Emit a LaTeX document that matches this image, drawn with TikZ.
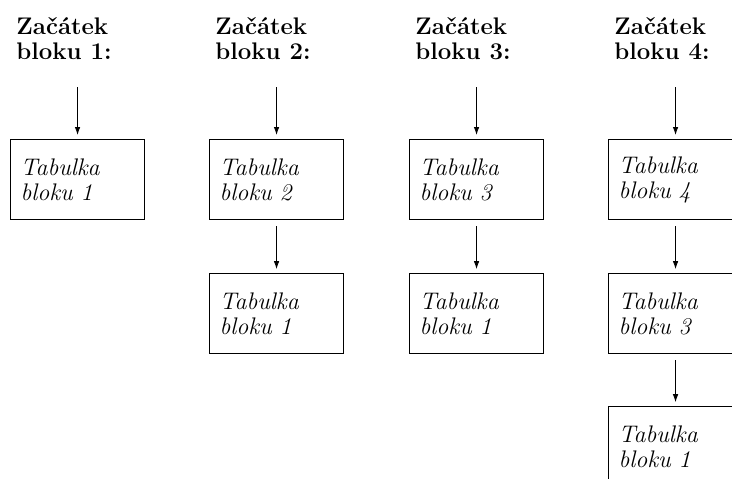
\documentclass[tikz,border=0pt]{standalone}
\usepackage{fontspec}
\usetikzlibrary{positioning,arrows.meta}

\begin{document}
\begin{tikzpicture}[x=1pt, y=-1pt, >={Latex[length=8pt,width=5.5pt]}, line width=.8pt,
  tab/.style={draw, line width=1.1pt, minimum width=134pt, minimum height=80pt,
    inner xsep=10pt, text width=114pt, align=left, anchor=north west,
    font=\fontsize{24}{25}\selectfont\itshape},
  head/.style={anchor=north west, inner sep=0pt, align=left,
    font=\fontsize{24}{25}\selectfont\bfseries}]
  \useasboundingbox (0,0) rectangle (732,479);
  \clip (0,0) rectangle (732,479);
  % first table of every block
  \foreach \n/\x in {1/10,2/209,3/409,4/608} {
    \node[head] (h\n) at (\x+6,17) {Začátek\\bloku \n:};
    \node[tab] (t\n) at (\x,139) {Tabulka\\bloku \n};
    \coordinate (s\n) at ([yshift=52pt]t\n.north);
    \draw[->, shorten >=4pt] (s\n) -- (t\n);
  }
  % the tables that follow
  \node[tab, below=53pt of t2] (u2) {Tabulka\\bloku 1};
  \node[tab, below=53pt of t3] (u3) {Tabulka\\bloku 1};
  \node[tab, below=53pt of t4] (u4) {Tabulka\\bloku 3};
  \node[tab, below=52pt of u4] (v4) {Tabulka\\bloku 1};
  \draw[->, shorten <=6pt, shorten >=4pt] (t2) -- (u2);
  \draw[->, shorten <=6pt, shorten >=4pt] (t3) -- (u3);
  \draw[->, shorten <=6pt, shorten >=4pt] (t4) -- (u4);
  \draw[->, shorten <=6pt, shorten >=4pt] (u4) -- (v4);
\end{tikzpicture}
\end{document}
